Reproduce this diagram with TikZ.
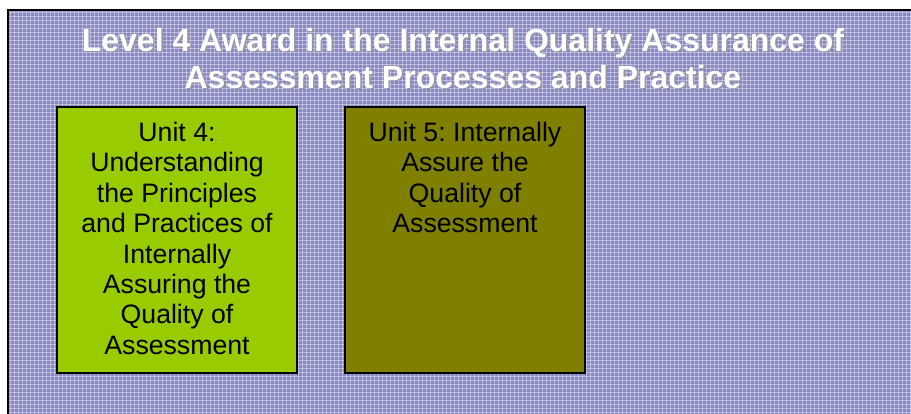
\documentclass[tikz,border=0pt]{standalone}
\usepackage{fontspec}
\setmainfont{Liberation Sans}
\frenchspacing
\definecolor{bgbase}{RGB}{136,136,198}
\definecolor{unitgreen}{RGB}{153,204,0}
\definecolor{unitolive}{RGB}{128,128,0}
\definecolor{shadowgray}{RGB}{150,150,160}
\tikzset{
  unitbox/.style={draw=black, line width=1.5pt, inner sep=0pt, anchor=north west,
    minimum width=180pt, minimum height=199.5pt},
  unittext/.style={align=center, inner sep=0pt, anchor=north, text=black,
    font=\fontsize{20}{22.8}\selectfont},
  titletext/.style={inner sep=0pt, anchor=base, text=white,
    font=\fontsize{24}{28}\selectfont\bfseries},
  titleshadow/.style={titletext, text=shadowgray},
  gridline/.style={white, opacity=0.4, line width=0.75pt}
}
\begin{document}
\begin{tikzpicture}[x=0.75pt, y=-0.75pt]
\useasboundingbox (0,0) rectangle (911,414);
% background panel
\fill[bgbase] (8,10) rectangle (925,425);
\begin{scope}
\clip (8,10) rectangle (911,414);
\foreach \gx in {10,14,...,910} { \draw[gridline] (\gx,10) -- (\gx,414); }
\foreach \gy in {12,16,...,414} { \draw[gridline] (8,\gy) -- (911,\gy); }
\end{scope}
\draw[line width=1.5pt] (8,425) -- (8,10) -- (925,10);
% title
\node[titleshadow] (t1s) at (464.5,52.5) {Level 4 Award in the Internal Quality Assurance of};
\node[titleshadow] (t2s) at (464.5,89.5) {Assessment Processes and Practice};
\node[titletext] (t1) at (463,51) {Level 4 Award in the Internal Quality Assurance of};
\node[titletext] (t2) at (463,88) {Assessment Processes and Practice};
% unit boxes
\node[unitbox, fill=unitgreen] (u4) at (56,106) {};
\node[unitbox, fill=unitolive] (u5) at (344,106) {};
\node[unittext] (u4t) at ([yshift=-12pt]u4.north) {Unit 4:\\Understanding\\the Principles\\and Practices of\\Internally\\Assuring the\\Quality of\\Assessment};
\node[unittext] (u5t) at ([yshift=-12pt]u5.north) {Unit 5: Internally\\Assure the\\Quality of\\Assessment};
\end{tikzpicture}
\end{document}
